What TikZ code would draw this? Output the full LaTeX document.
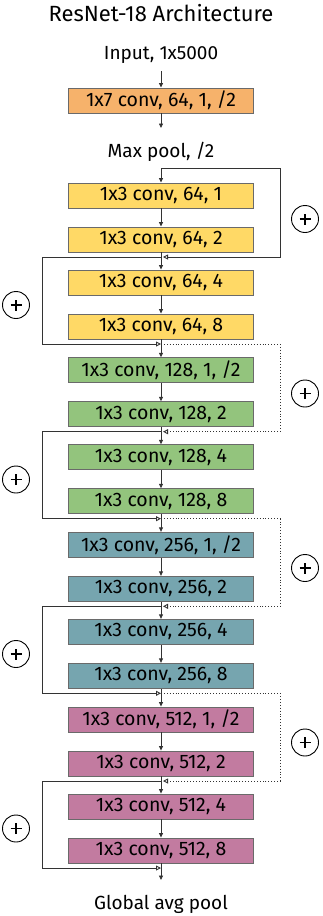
\documentclass[tikz,border=0pt]{standalone}
\usepackage{fontspec}
\setmainfont{Fira Sans}
\usetikzlibrary{arrows.meta}
\definecolor{cOrange}{HTML}{F6B26B}
\definecolor{cYellow}{HTML}{FFD966}
\definecolor{cGreen}{HTML}{93C47D}
\definecolor{cTeal}{HTML}{76A5AF}
\definecolor{cPink}{HTML}{C27BA0}
\definecolor{cBorder}{HTML}{6A6A6A}
\definecolor{cLine}{HTML}{333333}
\tikzset{
  blk/.style={draw=cBorder, line width=0.9pt, minimum width=185pt, minimum height=25pt, inner sep=0pt, font=\fontsize{19.5}{20}\selectfont},
  lbl/.style={inner sep=0pt, font=\fontsize{19}{20}\selectfont},
  arr/.style={draw=cLine, line width=0.8pt, -{Triangle[length=4.5pt,width=4pt]}},
  skip/.style={draw=cLine, line width=0.9pt, -{Triangle[open,length=5pt,width=5pt]}},
  dskip/.style={skip, dotted},
  plus/.style={circle, draw=black, line width=0.9pt, minimum size=27pt, inner sep=0pt,
    path picture={
      \draw[line width=1.1pt] ([xshift=-5.5pt]path picture bounding box.center) -- ([xshift=5.5pt]path picture bounding box.center);
      \draw[line width=1.1pt] ([yshift=-5.5pt]path picture bounding box.center) -- ([yshift=5.5pt]path picture bounding box.center);
    }}
}
\begin{document}
\begin{tikzpicture}[x=1pt,y=-1pt]
\useasboundingbox (0,0) rectangle (322,916);
\node[inner sep=0pt, font=\fontsize{22}{24}\selectfont] (title) at (161,13) {ResNet-18 Architecture};
\node[lbl] (input) at (161,55) {Input, 1x5000};
\node[blk, fill=cOrange] (c1) at (161,100.5) {1x7 conv, 64, 1, /2};
\coordinate (inBot) at (161,71);
\coordinate (mpTop) at (161,128);
\node[lbl] (mp) at (161,152) {Max pool, /2};
\coordinate (j0) at (161,168);
\draw[arr] (inBot) -- (c1.north);
\draw[arr] (c1.south) -- (mpTop);

% stage 0 (yellow)
\node[blk, fill=cYellow] (s0b1) at (161,195.5) {1x3 conv, 64, 1};
\node[blk, fill=cYellow] (s0b2) at (161,239.5) {1x3 conv, 64, 2};
\node[blk, fill=cYellow] (s0b3) at (161,282.5) {1x3 conv, 64, 4};
\node[blk, fill=cYellow] (s0b4) at (161,326.5) {1x3 conv, 64, 8};
\coordinate (s0ja) at (161,257);
\coordinate (s0jb) at (161,344);

% stage 1 (green)
\node[blk, fill=cGreen] (s1b1) at (161,370.2) {1x3 conv, 128, 1, /2};
\node[blk, fill=cGreen] (s1b2) at (161,414.2) {1x3 conv, 128, 2};
\node[blk, fill=cGreen] (s1b3) at (161,457.2) {1x3 conv, 128, 4};
\node[blk, fill=cGreen] (s1b4) at (161,501.2) {1x3 conv, 128, 8};
\coordinate (s1ja) at (161,431.7);
\coordinate (s1jb) at (161,518.7);

% stage 2 (teal)
\node[blk, fill=cTeal] (s2b1) at (161,544.8) {1x3 conv, 256, 1, /2};
\node[blk, fill=cTeal] (s2b2) at (161,588.8) {1x3 conv, 256, 2};
\node[blk, fill=cTeal] (s2b3) at (161,631.8) {1x3 conv, 256, 4};
\node[blk, fill=cTeal] (s2b4) at (161,675.8) {1x3 conv, 256, 8};
\coordinate (s2ja) at (161,606.3);
\coordinate (s2jb) at (161,693.3);

% stage 3 (pink)
\node[blk, fill=cPink] (s3b1) at (161,719.5) {1x3 conv, 512, 1, /2};
\node[blk, fill=cPink] (s3b2) at (161,763.5) {1x3 conv, 512, 2};
\node[blk, fill=cPink] (s3b3) at (161,806.5) {1x3 conv, 512, 4};
\node[blk, fill=cPink] (s3b4) at (161,850.5) {1x3 conv, 512, 8};
\coordinate (s3ja) at (161,781);
\coordinate (s3jb) at (161,868);

\coordinate (endA) at (161,880);
\node[lbl] (gap) at (161,904) {Global avg pool};

% main chain
\draw[arr] (j0) -- (s0b1.north);
\draw[arr] (s0b1.south) -- (s0b2.north);
\draw[arr] (s0b2.south) -- (s0b3.north);
\draw[arr] (s0b3.south) -- (s0b4.north);
\draw[arr] (s0b4.south) -- (s1b1.north);
\draw[arr] (s1b1.south) -- (s1b2.north);
\draw[arr] (s1b2.south) -- (s1b3.north);
\draw[arr] (s1b3.south) -- (s1b4.north);
\draw[arr] (s1b4.south) -- (s2b1.north);
\draw[arr] (s2b1.south) -- (s2b2.north);
\draw[arr] (s2b2.south) -- (s2b3.north);
\draw[arr] (s2b3.south) -- (s2b4.north);
\draw[arr] (s2b4.south) -- (s3b1.north);
\draw[arr] (s3b1.south) -- (s3b2.north);
\draw[arr] (s3b2.south) -- (s3b3.north);
\draw[arr] (s3b3.south) -- (s3b4.north);
\draw[arr] (s3b4.south) -- (endA);

% right skips
\draw[skip] (j0) -- ++(119,0) |- ([xshift=2pt]s0ja);
\draw[dskip] (s0jb) -- ++(119,0) |- ([xshift=2pt]s1ja);
\draw[dskip] (s1jb) -- ++(119,0) |- ([xshift=2pt]s2ja);
\draw[dskip] (s2jb) -- ++(119,0) |- ([xshift=2pt]s3ja);
% left skips
\draw[skip] (s0ja) -- ++(-119,0) |- (s0jb);
\draw[skip] (s1ja) -- ++(-119,0) |- (s1jb);
\draw[skip] (s2ja) -- ++(-119,0) |- (s2jb);
\draw[skip] (s3ja) -- ++(-119,0) |- (s3jb);

% plus circles
\node[plus] (p0r) at (305,219) {};
\node[plus] (p0l) at (16,305) {};
\node[plus] (p1r) at (305,393.5) {};
\node[plus] (p1l) at (16,479.5) {};
\node[plus] (p2r) at (305,568) {};
\node[plus] (p2l) at (16,654) {};
\node[plus] (p3r) at (305,742.5) {};
\node[plus] (p3l) at (16,828.5) {};
\end{tikzpicture}
\end{document}
